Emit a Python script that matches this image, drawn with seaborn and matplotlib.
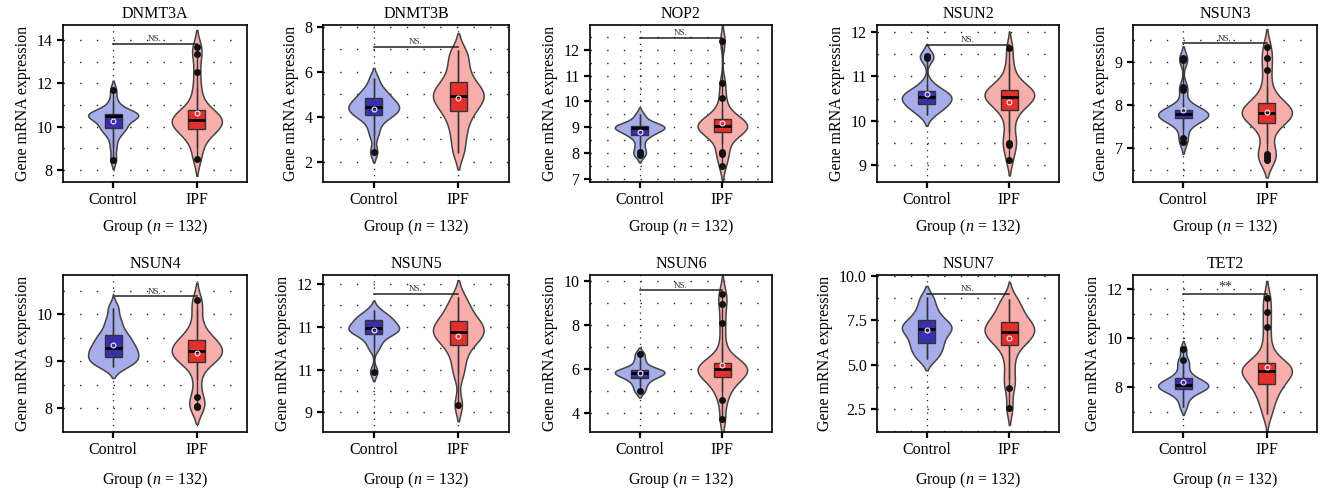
import numpy as np
import pandas as pd
import matplotlib
matplotlib.use("Agg")
import matplotlib.pyplot as plt
import seaborn as sns

# gene names, in panel order (row by row)
genes = ["DNMT3A", "DNMT3B", "NOP2", "NSUN2", "NSUN3",
         "NSUN4", "NSUN5", "NSUN6", "NSUN7", "TET2"]
groups = ["Control", "IPF"]
signif = ["NS.", "NS.", "NS.", "NS.", "NS.", "NS.", "NS.", "NS.", "NS.", "**"]

# expression values (approximate, per group)
control = {
    "DNMT3A": [8.48, 9.05, 9.5, 9.75, 9.9, 9.95, 10.05, 10.2, 10.35, 10.45, 10.5,
               10.52, 10.54, 10.57, 10.6, 10.63, 10.7, 10.9, 11.2, 11.7],
    "DNMT3B": [2.44, 3.2, 3.6, 3.9, 4.07, 4.1, 4.2, 4.3, 4.4, 4.47, 4.5, 4.6, 4.7,
               4.85, 4.96, 5.1, 5.3, 5.7],
    "NOP2": [7.9, 8.04, 8.25, 8.5, 8.7, 8.73, 8.8, 8.9, 8.95, 8.97, 9.0, 9.02,
             9.05, 9.1, 9.15, 9.3, 9.5],
    "NSUN2": [10.13, 10.25, 10.3, 10.35, 10.4, 10.45, 10.5, 10.54, 10.56, 10.6,
              10.65, 10.7, 10.84, 11.42, 11.46],
    "NSUN3": [7.15, 7.23, 7.45, 7.6, 7.66, 7.69, 7.71, 7.73, 7.75, 7.77, 7.78, 7.8,
              7.82, 7.84, 7.86, 7.87, 7.9, 8.05, 8.35, 8.42, 9.04, 9.08],
    "NSUN4": [8.87, 8.95, 9.0, 9.03, 9.1, 9.15, 9.2, 9.27, 9.3, 9.38, 9.45, 9.53,
              9.6, 9.75, 9.9, 10.14],
    "NSUN5": [9.95, 10.5, 10.65, 10.78, 10.84, 10.88, 10.92, 10.96, 10.98, 11.0,
              11.05, 11.15, 11.18, 11.2, 11.28, 11.39],
    "NSUN6": [5.0, 5.25, 5.45, 5.6, 5.68, 5.75, 5.82, 5.87, 5.9, 5.95, 6.0, 6.15,
              6.4, 6.7],
    "NSUN7": [5.3, 5.6, 5.9, 6.1, 6.37, 6.6, 6.8, 7.0, 7.09, 7.2, 7.4, 7.6, 7.9,
              8.3, 8.8],
    "TET2": [7.2, 7.5, 7.7, 7.8, 7.88, 7.92, 7.97, 8.02, 8.06, 8.08, 8.12, 8.18,
             8.25, 8.3, 8.35, 8.5, 8.7, 8.95, 9.13, 9.55],
}
ipf = {
    "DNMT3A": [8.5, 9.0, 9.4, 9.7, 9.83, 9.9, 10.0, 10.1, 10.2, 10.3, 10.3, 10.4,
               10.5, 10.6, 10.7, 10.78, 11.3, 11.8, 12.55, 13.35, 13.7],
    "DNMT3B": [2.4, 3.0, 3.5, 3.9, 4.24, 4.4, 4.6, 4.8, 4.93, 5.0, 5.15, 5.3, 5.54,
               5.8, 6.2, 6.6, 6.95],
    "NOP2": [7.5, 7.95, 8.05, 8.4, 8.7, 8.82, 8.85, 8.9, 8.95, 9.0, 9.04, 9.08,
             9.12, 9.2, 9.25, 9.3, 9.4, 9.7, 10.13, 10.7, 12.35],
    "NSUN2": [9.13, 9.45, 9.5, 9.75, 10.0, 10.24, 10.3, 10.38, 10.45, 10.5, 10.54,
              10.58, 10.6, 10.64, 10.67, 10.69, 10.75, 10.85, 11.0, 11.27, 11.64],
    "NSUN3": [6.73, 6.8, 6.86, 7.1, 7.4, 7.58, 7.65, 7.7, 7.75, 7.78, 7.81, 7.85,
              7.9, 7.95, 8.0, 8.04, 8.2, 8.45, 8.8, 9.08, 9.35],
    "NSUN4": [8.03, 8.06, 8.24, 8.6, 8.95, 9.0, 9.05, 9.1, 9.15, 9.2, 9.23, 9.27,
              9.32, 9.38, 9.44, 9.48, 9.6, 9.8, 10.1, 10.31],
    "NSUN5": [9.18, 9.9, 10.2, 10.45, 10.61, 10.7, 10.8, 10.86, 10.9, 10.95, 11.05,
              11.12, 11.2, 11.35, 11.5, 11.7],
    "NSUN6": [3.74, 4.6, 5.0, 5.3, 5.57, 5.65, 5.75, 5.85, 5.95, 6.0, 6.05, 6.12,
              6.18, 6.22, 6.27, 6.35, 7.2, 8.09, 8.96, 9.43],
    "NSUN7": [2.54, 3.67, 4.2, 4.9, 5.6, 6.1, 6.3, 6.45, 6.6, 6.72, 6.84, 6.95,
              7.05, 7.18, 7.3, 7.41, 7.6, 7.9, 8.2, 8.45, 8.7],
    "TET2": [6.9, 7.3, 7.6, 7.85, 8.0, 8.13, 8.3, 8.45, 8.55, 8.62, 8.67, 8.72,
             8.8, 8.88, 8.93, 8.97, 9.3, 9.8, 10.44, 11.05, 11.65],
}

# axis settings per panel
yticks = {
    "DNMT3A": [8, 10, 12, 14], "DNMT3B": [2, 4, 6, 8], "NOP2": [7, 8, 9, 10, 11, 12],
    "NSUN2": [9, 10, 11, 12], "NSUN3": [7, 8, 9], "NSUN4": [8, 9, 10],
    "NSUN5": [9, 10, 11, 12], "NSUN6": [4, 6, 8, 10], "NSUN7": [2.5, 5.0, 7.5, 10.0],
    "TET2": [8, 10, 12],
}
ytick_labels = {"NSUN5": ["9", "11", "11", "12"]}  # as printed in the original
ylims = {
    "DNMT3A": (7.45, 14.7), "DNMT3B": (1.1, 8.07), "NOP2": (6.87, 12.97),
    "NSUN2": (8.63, 12.15), "NSUN3": (6.22, 9.85), "NSUN4": (7.5, 10.83),
    "NSUN5": (8.54, 12.21), "NSUN6": (3.16, 10.27), "NSUN7": (1.2, 10.04),
    "TET2": (6.18, 12.57),
}

violin_colors = ["#A7ACEA", "#F8AEAB"]
box_colors = ["#3A2FAA", "#E4302A"]

plt.rcParams["font.family"] = ["Liberation Serif", "DejaVu Serif"]
plt.rcParams["mathtext.fontset"] = "custom"
plt.rcParams["mathtext.it"] = "Liberation Serif:italic"
plt.rcParams["mathtext.rm"] = "Liberation Serif"

fig = plt.figure(figsize=(13.29, 5.0), dpi=100)
W, H = 1329, 500
lefts = [63, 323, 590, 877, 1133]
widths = [184, 186, 182, 182, 184]
tops = [25, 275]
ax_h = 157

for i, gene in enumerate(genes):
    r, c = divmod(i, 5)
    ax = fig.add_axes([lefts[c] / W, 1 - (tops[r] + ax_h) / H, widths[c] / W, ax_h / H])

    df = pd.DataFrame({
        "group": ["Control"] * len(control[gene]) + ["IPF"] * len(ipf[gene]),
        "value": control[gene] + ipf[gene],
    })

    # grid: dotted verticals at categories, sparse dots horizontally
    step = yticks[gene][1] - yticks[gene][0]
    for yv in np.arange(yticks[gene][0] - step, yticks[gene][-1] + step, step / 2):
        ax.axhline(yv, color="#222222", lw=1.0, ls=(0, (1, 11)), zorder=0)
    for xv in [0, 1]:
        ax.axvline(xv, color="#222222", lw=0.9, ls=(0, (1, 4)), zorder=0)

    sns.violinplot(data=df, x="group", y="value", hue="group", order=groups,
                   hue_order=groups, palette=violin_colors, saturation=1,
                   inner=None, density_norm="width", width=0.6, linewidth=1.1,
                   linecolor="#444444", bw_adjust=0.6, cut=1.8,
                   legend=False, ax=ax, zorder=2)

    # thin range line through each violin
    for k, g in enumerate(groups):
        vals = df.loc[df.group == g, "value"]
        ax.vlines(k, vals.min(), vals.max(), color="#333333", lw=1.0, zorder=3)

    sns.boxplot(data=df, x="group", y="value", hue="group", order=groups,
                hue_order=groups, palette=box_colors, saturation=1, width=0.2,
                showcaps=False, linewidth=1.0, linecolor="#333333", legend=False,
                ax=ax,
                flierprops=dict(marker="o", markerfacecolor="#111111",
                                markeredgecolor="#111111", markersize=4),
                medianprops=dict(color="black", lw=2),
                showmeans=True,
                meanprops=dict(marker="o", markerfacecolor="none",
                               markeredgecolor="#EEEEFF", markersize=3.5,
                               markeredgewidth=0.8),
                zorder=4)

    lo, hi = ylims[gene]
    ax.set_ylim(lo, hi)
    ax.set_xlim(-0.6, 1.6)

    # significance bracket just above the highest value
    top = df["value"].max() + 0.02 * (hi - lo)
    ax.plot([0, 1], [top, top], color="#222222", lw=1.1, zorder=5)
    fs = 10 if signif[i] == "**" else 6.5
    ax.text(0.5, top + 0.005 * (hi - lo), signif[i], ha="center", va="bottom",
            fontsize=fs, color="#333333", zorder=5)

    ax.set_yticks(yticks[gene])
    if gene in ytick_labels:
        ax.set_yticklabels(ytick_labels[gene])
    ax.tick_params(axis="both", labelsize=11.5, width=1.6, length=4, color="black")
    ax.set_title(gene, fontsize=11.5, pad=5)
    ax.set_ylabel("Gene mRNA expression", fontsize=11.5)
    ax.set_xlabel("Group ($n$ = 132)", fontsize=11.5, labelpad=6 if r == 0 else 8)
    for s in ax.spines.values():
        s.set_linewidth(1.2)
        s.set_color("black")

fig.savefig("out.png", dpi=100)
